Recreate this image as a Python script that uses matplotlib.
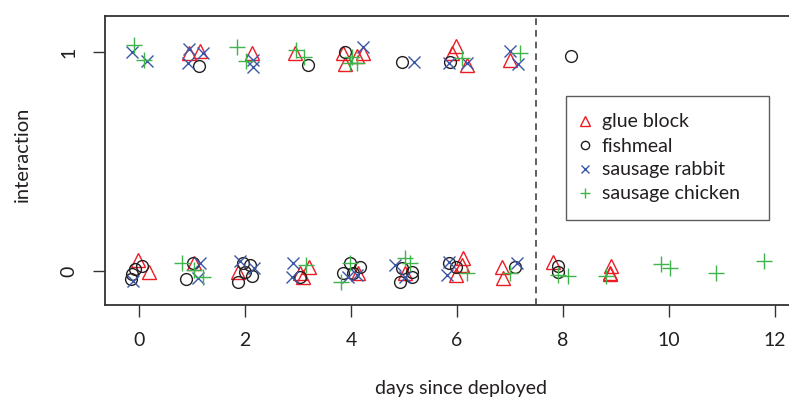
import numpy as np
import matplotlib
matplotlib.use("Agg")
import matplotlib.pyplot as plt

plt.rcParams['font.family'] = ['Lato', 'DejaVu Sans']

# jittered days / interaction values
glue_x = [0.95, 1.15, 2.13, 2.94, 3.85, 3.89, 4.11, 4.23, 5.90, 5.99, 6.18, 7.00,
          -0.01, 0.18, 1.04, 1.87, 3.21, 3.04, 3.09, 4.14, 5.02, 6.12, 6.09, 5.99,
          6.84, 6.87, 7.82, 8.90, 8.89, 8.88]
glue_y = [0.995, 1.007, 0.998, 0.995, 0.995, 0.947, 0.983, 0.997, 0.995, 1.029, 0.942, 0.965,
          0.05, -0.003, 0.035, -0.003, 0.017, -0.011, -0.027, -0.011, -0.01, 0.058, 0.027, -0.018,
          0.02, -0.033, 0.043, 0.023, -0.011, -0.015]

fish_x = [1.14, 3.19, 3.89, 4.96, 5.87, 8.16,
          0.05, -0.08, -0.14, -0.16, 1.01, 0.89, 1.97, 2.09, 2.00, 2.13, 1.87, 3.04,
          3.99, 4.17, 3.84, 4.03, 4.96, 5.15, 4.92, 5.15, 5.84, 5.99, 7.09, 7.91, 7.91]
fish_y = [0.937, 0.942, 1.003, 0.957, 0.957, 0.983,
          0.023, 0.008, -0.014, -0.038, 0.035, -0.038, 0.038, 0.027, -0.003, -0.023, -0.049, -0.026,
          0.038, 0.017, -0.008, -0.011, 0.012, -0.003, -0.049, -0.029, 0.035, 0.02, 0.02, 0.023, -0.003]

rabbit_x = [-0.14, 0.15, 0.95, 0.93, 1.21, 2.16, 2.16, 4.23, 5.18, 5.84, 6.18, 7.00, 7.16,
            -0.11, 1.15, 1.12, 1.91, 2.17, 2.91, 2.88, 3.95, 4.11, 4.83, 5.02, 5.84, 5.81, 7.13]
rabbit_y = [1.0, 0.962, 1.014, 0.95, 0.995, 0.965, 0.934, 1.026, 0.957, 0.952, 0.952, 1.007, 0.947,
            -0.044, 0.035, -0.033, 0.047, 0.012, 0.038, -0.026, -0.026, -0.018, 0.027, -0.026,
            0.043, -0.018, 0.038]

chicken_x = [-0.09, 0.09, 1.84, 2.01, 2.96, 3.11, 3.98, 4.11, 4.02, 6.09, 7.19,
             0.81, 1.21, 1.04, 3.16, 3.99, 3.82, 5.02, 5.11, 6.18, 7.00, 7.91, 8.10, 8.82,
             9.84, 10.02, 10.88, 11.80]
chicken_y = [1.033, 0.965, 1.023, 0.962, 1.01, 0.977, 0.95, 0.95, 0.978, 0.973, 0.995,
             0.038, -0.029, 0.005, 0.027, 0.038, -0.049, 0.058, 0.035, -0.011, -0.011, -0.018,
             -0.023, -0.023, 0.032, 0.012, -0.008, 0.047]

labels = ['glue block', 'fishmeal', 'sausage rabbit', 'sausage chicken']
colors = ['#ED1C24', '#231F20', '#3B56A7', '#3DB54A']
xticks = [0, 2, 4, 6, 8, 10, 12]
yticks = [0, 1]
cutoff = 7.5

txt = '#231F20'
fig = plt.figure(figsize=(7.89, 3.99), dpi=100)
ax = fig.add_axes([0.1331, 0.2356, 0.9163, 0.7243])

ax.plot(glue_x, glue_y, '^', ms=10, mfc='none', mec=colors[0], mew=1.0, ls='none', label=labels[0])
ax.plot(fish_x, fish_y, 'o', ms=8.5, mfc='none', mec=colors[1], mew=1.0, ls='none', label=labels[1])
ax.plot(rabbit_x, rabbit_y, 'x', ms=8.5, mec=colors[2], mew=1.0, ls='none', label=labels[2])
ax.plot(chicken_x, chicken_y, '+', ms=11, mec=colors[3], mew=1.0, ls='none', label=labels[3])

ax.axvline(cutoff, color='#444444', lw=1.2, ls=(0, (4, 3)))

ax.set_xlim(-0.6415, 13)
ax.set_ylim(-0.1555, 1.166)
ax.set_xticks(xticks)
ax.set_yticks(yticks)
ax.tick_params(direction='out', length=8.7, width=1.0, color='#333333',
               labelsize=14, labelcolor=txt, pad=11)
for lab in ax.get_yticklabels():
    lab.set_rotation(90)
    lab.set_va('center')
for s in ax.spines.values():
    s.set_linewidth(1.3)
    s.set_color('#333333')

fig.text(0.584, 0.027, 'days since deployed', ha='center', va='center', fontsize=14, color=txt)
fig.text(0.028, 0.614, 'interaction', ha='center', va='center', rotation=90, fontsize=14.5, color=txt)

# legend box spans x 566..769 px, top at 96 px
leg = ax.legend(loc='upper left',
                bbox_to_anchor=(566 / 789, 1 - 96 / 399, 203 / 789, 0.0),
                bbox_transform=fig.transFigure, mode='expand', frameon=True, fancybox=False,
                fontsize=14, handlelength=0.2, handletextpad=0.75, borderpad=0.9,
                labelspacing=0.36, borderaxespad=0, markerscale=0.7)
leg.get_frame().set_edgecolor('#333333')
leg.get_frame().set_linewidth(1.0)
for t in leg.get_texts():
    t.set_color(txt)

fig.savefig('out.png', dpi=100)
